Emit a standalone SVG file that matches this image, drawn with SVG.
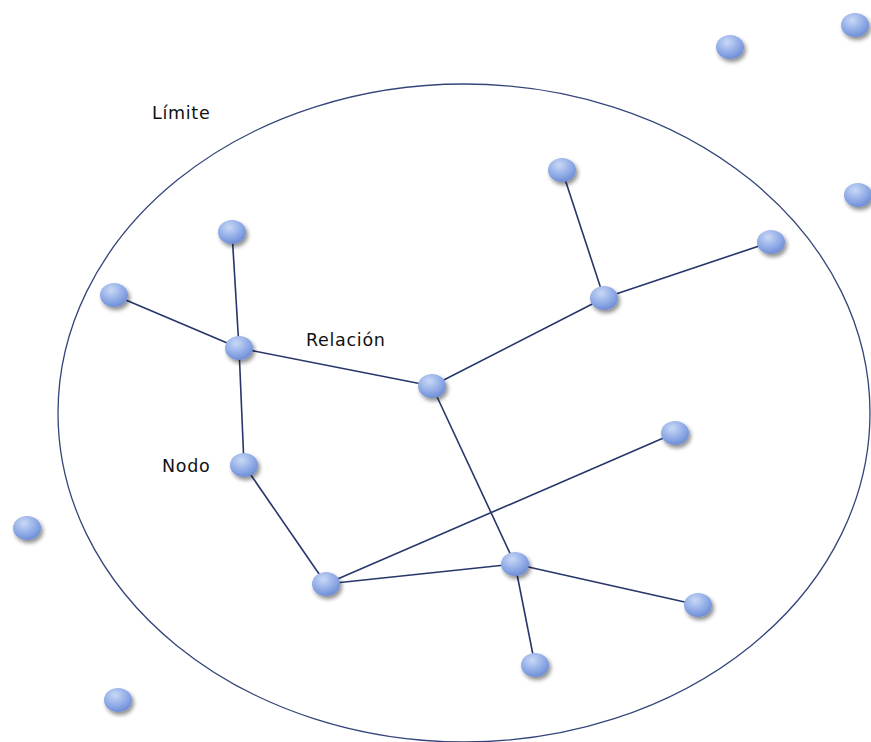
<svg xmlns="http://www.w3.org/2000/svg" width="871" height="742" viewBox="0 0 871 742">
<defs>
<radialGradient id="g" cx="0.4" cy="0.3" r="0.75">
<stop offset="0" stop-color="#c9d8f5"/>
<stop offset="0.6" stop-color="#8eaae6"/>
<stop offset="1" stop-color="#6a88d2"/>
</radialGradient>
<filter id="sh" x="-50%" y="-50%" width="200%" height="200%">
<feGaussianBlur in="SourceAlpha" stdDeviation="2"/>
<feOffset dx="2" dy="3" result="b"/>
<feComponentTransfer><feFuncA type="linear" slope="0.45"/></feComponentTransfer>
<feMerge><feMergeNode/><feMergeNode in="SourceGraphic"/></feMerge>
</filter>
<style>
.n{fill:url(#g);filter:url(#sh)}
.e{stroke:#26366a;stroke-width:1.6;fill:none}
.t{font-family:"DejaVu Sans","Noto Sans",sans-serif;font-size:17.5px;letter-spacing:0.7px;fill:#111}
</style>
</defs>
<rect width="871" height="742" fill="#fff"/>
<ellipse id="limite" cx="464" cy="413" rx="406" ry="329" fill="none" stroke="#34457a" stroke-width="1.3"/>
<g id="connectors">
<line class="e" x1="232" y1="232" x2="239" y2="348"/>
<line class="e" x1="114" y1="295" x2="239" y2="348"/>
<line class="e" x1="239" y1="348" x2="432" y2="386"/>
<line class="e" x1="239" y1="348" x2="244" y2="465"/>
<line class="e" x1="432" y1="386" x2="604" y2="298"/>
<line class="e" x1="604" y1="298" x2="562" y2="170"/>
<line class="e" x1="604" y1="298" x2="771" y2="242"/>
<line class="e" x1="432" y1="386" x2="515" y2="564"/>
<line class="e" x1="244" y1="465" x2="326" y2="584"/>
<line class="e" x1="326" y1="584" x2="675" y2="433"/>
<line class="e" x1="326" y1="584" x2="515" y2="564"/>
<line class="e" x1="515" y1="564" x2="698" y2="605"/>
<line class="e" x1="515" y1="564" x2="535" y2="665"/>
</g>
<g id="n1"><ellipse class="n" cx="730" cy="47" rx="14" ry="12"/></g>
<g id="n2"><ellipse class="n" cx="855" cy="25" rx="14" ry="12"/></g>
<g id="n3"><ellipse class="n" cx="858" cy="195" rx="14" ry="12"/></g>
<g id="n4"><ellipse class="n" cx="562" cy="170" rx="14" ry="12"/></g>
<g id="n5"><ellipse class="n" cx="771" cy="242" rx="14" ry="12"/></g>
<g id="n6"><ellipse class="n" cx="604" cy="298" rx="14" ry="12"/></g>
<g id="n7"><ellipse class="n" cx="232" cy="232" rx="14" ry="12"/></g>
<g id="n8"><ellipse class="n" cx="114" cy="295" rx="14" ry="12"/></g>
<g id="n9"><ellipse class="n" cx="239" cy="348" rx="14" ry="12"/></g>
<g id="n10"><ellipse class="n" cx="432" cy="386" rx="14" ry="12"/></g>
<g id="n11"><ellipse class="n" cx="675" cy="433" rx="14" ry="12"/></g>
<g id="n12"><ellipse class="n" cx="244" cy="465" rx="14" ry="12"/></g>
<g id="n13"><ellipse class="n" cx="27" cy="528" rx="14" ry="12"/></g>
<g id="n14"><ellipse class="n" cx="326" cy="584" rx="14" ry="12"/></g>
<g id="n15"><ellipse class="n" cx="515" cy="564" rx="14" ry="12"/></g>
<g id="n16"><ellipse class="n" cx="698" cy="605" rx="14" ry="12"/></g>
<g id="n17"><ellipse class="n" cx="535" cy="665" rx="14" ry="12"/></g>
<g id="n18"><ellipse class="n" cx="118" cy="700" rx="14" ry="12"/></g>
<text class="t" x="152" y="119">Límite</text>
<text class="t" x="306" y="346">Relación</text>
<text class="t" x="162" y="472">Nodo</text>
</svg>
